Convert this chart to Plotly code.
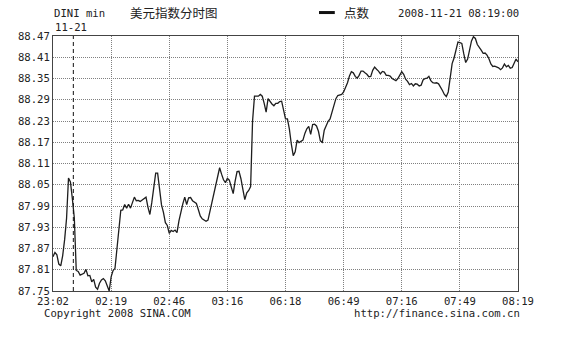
import plotly.graph_objects as go

# ---- data ----
x_tick_labels = ["23:02", "02:19", "02:46", "03:16", "06:18", "06:49", "07:16", "07:49", "08:19"]
points_per_interval = 30
y_ticks = [87.75, 87.81, 87.87, 87.93, 87.99, 88.05, 88.11, 88.17, 88.23, 88.29, 88.35, 88.41, 88.47]
date_break_index = 10.5
date_label = "11-21"

dini_values = [
    87.847, 87.859, 87.852, 87.826, 87.821, 87.850, 87.895, 87.955, 88.069, 88.058,
    88.010, 87.957, 87.808, 87.805, 87.795, 87.798, 87.800, 87.811, 87.793, 87.794,
    87.776, 87.783, 87.761, 87.755, 87.772, 87.781, 87.785, 87.779, 87.762, 87.750,
    87.790, 87.808, 87.814, 87.870, 87.940, 87.978, 87.979, 87.994, 87.984, 87.995,
    87.984, 87.999, 88.015, 88.005, 88.006, 88.003, 88.007, 88.009, 88.015, 87.987,
    87.966, 88.000, 88.040, 88.083, 88.083, 88.038, 87.993, 87.972, 87.943, 87.935,
    87.913, 87.921, 87.918, 87.922, 87.915, 87.948, 87.974, 87.996, 88.015, 87.994,
    88.013, 88.014, 88.005, 88.000, 87.997, 87.980, 87.962, 87.954, 87.951, 87.947,
    87.950, 87.974, 88.006, 88.028, 88.048, 88.074, 88.098, 88.080, 88.064, 88.056,
    88.068, 88.063, 88.045, 88.025, 88.060, 88.087, 88.088, 88.067, 88.037, 88.008,
    88.027, 88.034, 88.045, 88.230, 88.300, 88.300, 88.300, 88.305, 88.300, 88.280,
    88.255, 88.293, 88.284, 88.278, 88.273, 88.280, 88.280, 88.285, 88.286, 88.258,
    88.236, 88.236, 88.207, 88.165, 88.132, 88.143, 88.176, 88.169, 88.173, 88.176,
    88.195, 88.208, 88.215, 88.192, 88.220, 88.221, 88.216, 88.201, 88.174, 88.170,
    88.204, 88.219, 88.229, 88.236, 88.257, 88.277, 88.293, 88.302, 88.303, 88.305,
    88.312, 88.323, 88.338, 88.357, 88.369, 88.366, 88.356, 88.351, 88.359, 88.371,
    88.371, 88.366, 88.362, 88.355, 88.356, 88.373, 88.382, 88.376, 88.371, 88.363,
    88.370, 88.368, 88.359, 88.359, 88.357, 88.350, 88.347, 88.344, 88.350, 88.362,
    88.369, 88.362, 88.348, 88.342, 88.333, 88.336, 88.329, 88.335, 88.334, 88.329,
    88.331, 88.346, 88.350, 88.351, 88.356, 88.344, 88.338, 88.337, 88.338, 88.335,
    88.327, 88.316, 88.305, 88.299, 88.312, 88.350, 88.392, 88.408, 88.427, 88.453,
    88.451, 88.449, 88.420, 88.395, 88.405, 88.434, 88.456, 88.468, 88.463, 88.446,
    88.436, 88.430, 88.421, 88.422, 88.416, 88.406, 88.391, 88.384, 88.385, 88.383,
    88.380, 88.375, 88.380, 88.391, 88.383, 88.387, 88.379, 88.381, 88.394, 88.405,
    88.397,
]

# ---- figure ----
idx = list(range(len(dini_values)))
tick_positions = [i * points_per_interval for i in range(len(x_tick_labels))]

MONO = "DejaVu Sans Mono"
CJK = "Noto Sans CJK SC"
TXT = "#222222"

fig = go.Figure()
fig.add_trace(go.Scatter(
    x=idx, y=dini_values, mode="lines", name="点数",
    line=dict(color="#1e1e1e", width=1.3), showlegend=False,
))

fig.update_layout(
    width=564, height=339,
    margin=dict(l=53, r=46, t=36, b=48),
    paper_bgcolor="white", plot_bgcolor="white",
    font=dict(family=MONO, size=10.6, color=TXT),
    xaxis=dict(
        range=[0, tick_positions[-1]], tickmode="array",
        tickvals=tick_positions, ticktext=x_tick_labels,
        showgrid=True, gridcolor="#808080", griddash="1px,1px", gridwidth=1,
        showline=True, linecolor="#444444", linewidth=1, mirror=True,
        ticks="", zeroline=False, tickfont=dict(family=MONO, size=10.6, color=TXT),
    ),
    yaxis=dict(
        range=[y_ticks[0], y_ticks[-1]], tickmode="array",
        tickvals=y_ticks, ticktext=[f"{v:.2f}" for v in y_ticks],
        showgrid=True, gridcolor="#808080", griddash="1px,1px", gridwidth=1,
        showline=True, linecolor="#444444", linewidth=1, mirror=True,
        ticks="", zeroline=False, tickfont=dict(family=MONO, size=10.6, color=TXT),
    ),
)

# date-change marker
fig.add_shape(type="line", xref="x", yref="paper", x0=date_break_index, x1=date_break_index,
              y0=0, y1=1, line=dict(color="#111111", width=1, dash="4px,3px"))

def ann(text, x, y, family=MONO, size=10.6):
    fig.add_annotation(text=text, xref="paper", yref="paper", x=x, y=y,
                       xanchor="left", yanchor="middle", showarrow=False,
                       font=dict(family=family, size=size, color=TXT))

ann("DINI min", -0.002, 1.090)
ann("美元指数分时图", 0.161, 1.092, family=CJK, size=12.5)
ann("点数", 0.6215, 1.092, family=CJK, size=12.5)
ann("2008-11-21 08:19:00", 0.7376, 1.090)
ann(date_label, 0.0, 1.035)
ann("Copyright 2008 SINA.COM", -0.0237, -0.086)
ann("http://finance.sina.com.cn", 0.643, -0.086)

# legend-like sample line in the header
fig.add_shape(type="line", xref="paper", yref="paper", x0=0.572, x1=0.606,
              y0=1.092, y1=1.092, line=dict(color="#111111", width=3))

fig.write_html("out.html")
